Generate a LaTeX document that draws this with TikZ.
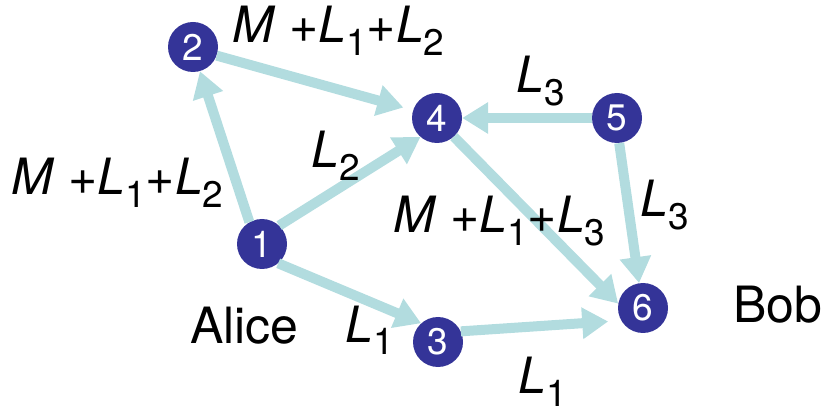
\documentclass[tikz,border=0pt]{standalone}
\usepackage{fontspec}
\setmainfont{TeX Gyre Heros}
\usetikzlibrary{arrows.meta}
\definecolor{nodeblue}{RGB}{52,52,152}
\definecolor{edgeblue}{RGB}{178,220,223}
\newcommand{\Lsb}[1]{\textit{L}\raisebox{-13pt}[0pt][0pt]{\fontsize{37}{37}\selectfont #1}}
\tikzset{
  vtx/.style={circle, fill=nodeblue, minimum size=50pt, inner sep=0pt, text=white, font=\fontsize{37}{37}\selectfont},
  edge/.style={draw=edgeblue, line width=10pt, -{Triangle[width=30pt,length=26pt]}},
  lbl/.style={anchor=base west, inner sep=0pt, font=\fontsize{50}{50}\selectfont}
}
\begin{document}
\begin{tikzpicture}[x=1pt,y=-1pt]
\useasboundingbox (0,0) rectangle (828,414);
\node[vtx] (n1) at (262,244) {1};
\node[vtx] (n2) at (193,47) {2};
\node[vtx] (n3) at (438,342) {3};
\node[vtx] (n4) at (437,118) {4};
\node[vtx] (n5) at (617,118) {5};
\node[vtx] (n6) at (643,308) {6};

\draw[edge] (n1.120) -- (n2.-74);
\draw[edge, shorten >=10pt] (n2.-20) -- (n4.162);
\draw[edge] (n1.47) -- (n4.-131);
\draw[edge] (n1.-50) -- (n3.132);
\draw[edge, shorten >=13pt] (n3.25) -- (n6.210);
\draw[edge] (n4.-48) -- (n6.170);
\draw[edge] (n5.180) -- (n4.0);
\draw[edge] (n5.-85) -- (n6.99);

\node[lbl] (t1) at (232,43) {\textit{M} +\Lsb{1}+\Lsb{2}};
\node[lbl] (t2) at (11,195) {\textit{M} +\Lsb{1}+\Lsb{2}};
\node[lbl] (t3) at (311,168) {\Lsb{2}};
\node[lbl] (t4) at (516,93) {\Lsb{3}};
\node[lbl] (t5) at (393,233) {\textit{M} +\Lsb{1}+\Lsb{3}};
\node[lbl] (t6) at (640,217) {\Lsb{3}};
\node[lbl] (t7) at (345,342) {\Lsb{1}};
\node[lbl] (t8) at (518,393) {\Lsb{1}};
\node[lbl] (alice) at (190,343) {Alice};
\node[lbl] (bob) at (733,323) {Bob};
\end{tikzpicture}
\end{document}
